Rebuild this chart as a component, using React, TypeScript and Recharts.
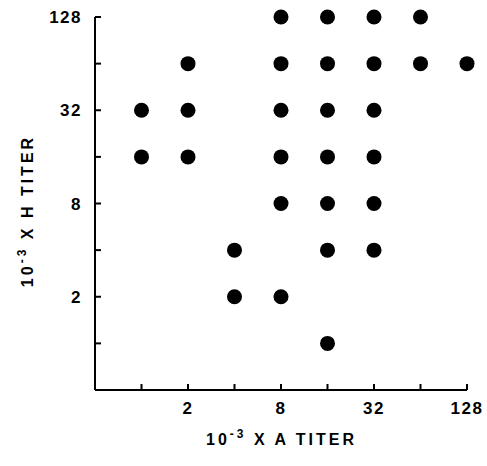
import React from 'react';
import { ScatterChart, Scatter, XAxis, YAxis } from 'recharts';

// titers of each serum (x: A titer, y: H titer)
const aTiters = [1, 1, 2, 2, 2, 4, 4, 8, 8, 8, 8, 8, 8, 16, 16, 16, 16, 16, 16, 16, 32, 32, 32, 32, 32, 32, 64, 64, 128];
const hTiters = [32, 16, 64, 32, 16, 4, 2, 128, 64, 32, 16, 8, 2, 128, 64, 32, 16, 8, 4, 1, 128, 64, 32, 16, 8, 4, 128, 64, 64];

const tickValues = [1, 2, 4, 8, 16, 32, 64, 128];
const labelledTicks = [2, 8, 32, 128];

const data = aTiters.map((a, i) => ({ a, h: hTiters[i] }));

const FONT = '"Liberation Sans", Arial, sans-serif';

const XTick = (props: any) => {
  const { x, y, payload } = props;
  const show = labelledTicks.includes(payload.value);
  return (
    <g>
      <line x1={x} x2={x} y1={y} y2={y - 6} stroke="#000" strokeWidth={2} />
      {show && (
        <text x={x} y={y + 24} textAnchor="middle" fontFamily={FONT} fontWeight="bold" fontSize={17} letterSpacing={1.5} fill="#000">
          {payload.value}
        </text>
      )}
    </g>
  );
};

const YTick = (props: any) => {
  const { x, y, payload } = props;
  const show = labelledTicks.includes(payload.value);
  return (
    <g>
      <line x1={x} x2={x + 6} y1={y} y2={y} stroke="#000" strokeWidth={2} />
      {show && (
        <text x={x - 13} y={y + 6} textAnchor="end" fontFamily={FONT} fontWeight="bold" fontSize={17} letterSpacing={1.5} fill="#000">
          {payload.value}
        </text>
      )}
    </g>
  );
};

const titleStyle = { fontFamily: FONT, fontWeight: 'bold' as const, fontSize: 16, letterSpacing: 3, fill: '#000' };

const XTitle = () => (
  <text x={206} y={445} style={titleStyle}>
    10<tspan dy={-7} fontSize={12}>-3</tspan>
    <tspan dy={7}> X A TITER</tspan>
  </text>
);

const YTitle = () => (
  <text transform="translate(33, 211) rotate(-90)" textAnchor="middle" style={titleStyle}>
    10<tspan dy={-7} fontSize={12}>-3</tspan>
    <tspan dy={7}> X H TITER</tspan>
  </text>
);

const App: React.FC = () => {
  return (
    <div style={{ position: 'absolute', left: 0, top: 0, background: '#fff' }}>
      <ScatterChart width={487} height={466} margin={{ top: 17, right: 20, bottom: 0, left: 0 }}>
        <XAxis
          type="number"
          dataKey="a"
          scale="log"
          domain={[0.5, 128]}
          ticks={tickValues}
          height={76}
          tickSize={0}
          tickMargin={0}
          tickLine={false}
          axisLine={{ stroke: '#000', strokeWidth: 2 }}
          tick={<XTick />}
          interval={0}
          label={{ content: () => <XTitle /> }}
        />
        <YAxis
          type="number"
          dataKey="h"
          scale="log"
          domain={[0.5, 128]}
          ticks={tickValues}
          width={95}
          tickSize={0}
          tickMargin={0}
          tickLine={false}
          axisLine={{ stroke: '#000', strokeWidth: 2 }}
          tick={<YTick />}
          interval={0}
          label={{ content: () => <YTitle /> }}
        />
        <Scatter
          data={data}
          fill="#000"
          isAnimationActive={false}
          shape={(p: any) => <circle cx={p.cx} cy={p.cy} r={7.5} fill="#000" />}
        />
      </ScatterChart>
    </div>
  );
};

export default App;
